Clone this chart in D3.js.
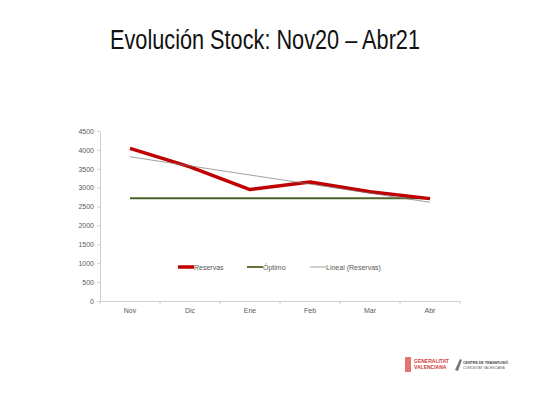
<!DOCTYPE html>
<meta charset="utf-8">
<html>
  <head>
    <script src="https://d3js.org/d3.v7.min.js"></script>
    <style>
      body { margin: 0; background: #fff; }
      text { font-family: "Liberation Sans", Arial, sans-serif; }
    </style>
  </head>
  <body>
    <svg id="chart" width="533" height="400"></svg>
    <script>
    const months = ["Nov", "Dic", "Ene", "Feb", "Mar", "Abr"];
    const reservas = [4040, 3550, 2950, 3150, 2890, 2710];
    const optimo = [2720, 2720, 2720, 2720, 2720, 2720];
    const yTicks = [0, 500, 1000, 1500, 2000, 2500, 3000, 3500, 4000, 4500];
    const legendNames = ["Reservas", "Óptimo", "Lineal (Reservas)"];

    // linear trend like Excel's "Lineal"
    function linearTrend(vals) {
      var n = vals.length, mx = (n - 1) / 2, my = d3.mean(vals);
      var num = 0, den = 0;
      vals.forEach(function(v, i) { num += (i - mx) * (v - my); den += (i - mx) * (i - mx); });
      var b = num / den;
      return vals.map(function(v, i) { return my + b * (i - mx); });
    }
    const lineal = linearTrend(reservas);

    var svg = d3.select("#chart");

    // title (narrow look)
    svg.append("text")
      .attr("x", 110).attr("y", 49)
      .attr("textLength", 310).attr("lengthAdjust", "spacingAndGlyphs")
      .style("font-size", "27px")
      .attr("fill", "#111")
      .text("Evolución Stock: Nov20 – Abr21");

    var plotLeft = 100, plotRight = 460, plotTop = 131, plotBottom = 301;

    var x = d3.scaleBand().domain(months).range([plotLeft, plotRight]);
    var y = d3.scaleLinear().domain([0, 4500]).range([plotBottom, plotTop]);

    // y axis
    var yAxis = svg.append("g")
      .attr("transform", "translate(" + plotLeft + ",0)")
      .call(d3.axisLeft(y).tickValues(yTicks).tickFormat(d3.format("d"))
        .tickSize(3).tickPadding(3).tickSizeOuter(0));
    yAxis.selectAll("line, path").attr("stroke", "#d0d0d0");
    yAxis.selectAll("text").attr("fill", "#595959").style("font-size", "7px");

    // x axis, ticks between categories
    var xAxis = svg.append("g")
      .attr("transform", "translate(0," + plotBottom + ")")
      .call(d3.axisBottom(x).tickSize(0).tickPadding(7));
    xAxis.selectAll("path").attr("stroke", "#d0d0d0");
    xAxis.selectAll("text").attr("fill", "#595959").style("font-size", "7px");
    xAxis.selectAll("line.sep")
      .data(months.concat(["end"]))
      .enter().append("line")
      .attr("class", "sep")
      .attr("x1", function(d, i) { return plotLeft + i * x.bandwidth(); })
      .attr("x2", function(d, i) { return plotLeft + i * x.bandwidth(); })
      .attr("y1", 0).attr("y2", 3)
      .attr("stroke", "#d0d0d0");

    var cx = function(d, i) { return x(months[i]) + x.bandwidth() / 2; };
    var line = d3.line().x(cx).y(function(d) { return y(d); });

    svg.append("path").datum(optimo)
      .attr("d", line).attr("fill", "none")
      .attr("stroke", "#4f6228").attr("stroke-width", 1.8);

    svg.append("path").datum(reservas)
      .attr("d", line).attr("fill", "none")
      .attr("stroke", "#c00000").attr("stroke-width", 3.5)
      .attr("stroke-linejoin", "round");

    svg.append("path").datum(lineal)
      .attr("d", line).attr("fill", "none")
      .attr("stroke", "#777").attr("stroke-width", 0.7);

    // legend
    var legendX = [178, 247, 310];
    var legendStyle = [["#c00000", 3.5], ["#4f6228", 1.8], ["#777", 0.7]];
    var lg = svg.append("g").selectAll("g")
      .data(legendNames).enter().append("g")
      .attr("transform", function(d, i) { return "translate(" + legendX[i] + ",267)"; });
    lg.append("line")
      .attr("x1", 0).attr("x2", 16).attr("y1", 0).attr("y2", 0)
      .attr("stroke", function(d, i) { return legendStyle[i][0]; })
      .attr("stroke-width", function(d, i) { return legendStyle[i][1]; });
    lg.append("text")
      .attr("x", 16).attr("y", 2.5)
      .attr("fill", "#595959").style("font-size", "7px")
      .text(function(d) { return d; });

    // logos (bottom right)
    var logo = svg.append("g");
    logo.append("rect").attr("x", 405).attr("y", 357).attr("width", 6).attr("height", 15)
      .attr("fill", "#d9534f").attr("opacity", 0.8);
    logo.append("text").attr("x", 414).attr("y", 363)
      .attr("fill", "#d23a3a").style("font-size", "5px").style("font-weight", "bold")
      .text("GENERALITAT");
    logo.append("text").attr("x", 414).attr("y", 369)
      .attr("fill", "#d23a3a").style("font-size", "5px").style("font-weight", "bold")
      .text("VALENCIANA");
    logo.append("path").attr("d", "M455,370 L460,359 L462,360 L458,371 Z")
      .attr("fill", "#777");
    logo.append("text").attr("x", 463).attr("y", 364)
      .attr("fill", "#444").style("font-size", "3.6px").style("font-weight", "bold")
      .text("CENTRE DE TRANSFUSIÓ");
    logo.append("text").attr("x", 463).attr("y", 368.5)
      .attr("fill", "#666").style("font-size", "3.4px")
      .text("COMUNITAT VALENCIANA");
    </script>
  </body>
</html>
